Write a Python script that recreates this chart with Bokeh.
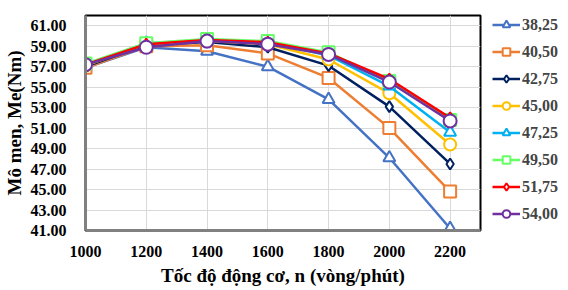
from bokeh.plotting import figure
from bokeh.layouts import row
from bokeh.models import Range1d, FixedTicker, NumeralTickFormatter, Legend, LegendItem
from bokeh.embed import file_html
from bokeh.resources import INLINE

speed = [1000, 1200, 1400, 1600, 1800, 2000, 2200]
s_3825 = [56.9, 58.9, 58.5, 57.0, 53.8, 48.1, 41.2]
s_4050 = [56.9, 59.0, 59.1, 58.3, 55.9, 51.0, 44.8]
s_4275 = [57.0, 59.1, 59.4, 58.9, 57.1, 53.1, 47.5]
s_4500 = [57.1, 59.2, 59.5, 59.2, 57.7, 54.4, 49.4]
s_4725 = [57.2, 59.3, 59.6, 59.4, 58.1, 55.1, 50.6]
s_4950 = [57.3, 59.3, 59.7, 59.5, 58.4, 55.6, 51.8]
s_5175 = [57.2, 59.2, 59.6, 59.4, 58.3, 55.8, 52.0]
s_5400 = [57.2, 58.9, 59.5, 59.2, 58.2, 55.5, 51.7]
labels = ["38,25", "40,50", "42,75", "45,00", "47,25", "49,50", "51,75", "54,00"]
x_ticks = [1000, 1200, 1400, 1600, 1800, 2000, 2200]
y_ticks = [41, 43, 45, 47, 49, 51, 53, 55, 57, 59, 61]

series = [s_3825, s_4050, s_4275, s_4500, s_4725, s_4950, s_5175, s_5400]
colors = ["#4472C4", "#ED7D31", "#002060", "#FFC000", "#00B0F0", "#66FF66", "#FF0000", "#7030A0"]
markers = ["triangle", "square", "diamond", "circle", "triangle", "square", "diamond", "circle"]
msizes = [12, 12, 11, 12, 12, 12, 11, 13]

FONT = "Liberation Serif"
NAN = float("nan")

p = figure(width=492, height=288, output_backend="svg", toolbar_location=None,
           x_range=Range1d(1000, 2300), y_range=Range1d(41, 62),
           min_border_left=79, min_border_right=12, min_border_top=15, min_border_bottom=55)
p.background_fill_color = "white"
p.border_fill_color = "white"
p.outline_line_color = "black"
p.outline_line_width = 2

p.xaxis.ticker = FixedTicker(ticks=x_ticks)
p.yaxis.ticker = FixedTicker(ticks=y_ticks)
p.yaxis.formatter = NumeralTickFormatter(format="0.00")
p.xaxis.formatter = NumeralTickFormatter(format="0")
for ax in (p.xaxis, p.yaxis):
    ax.major_tick_line_color = None
    ax.minor_tick_line_color = None
    ax.axis_line_color = "#808080"
    ax.axis_line_width = 3
    ax.major_label_text_font = FONT
    ax.major_label_text_font_style = "bold"
    ax.major_label_text_font_size = "16px"
    ax.major_label_text_color = "black"
    ax.axis_label_text_font = FONT
    ax.axis_label_text_font_style = "bold"
    ax.axis_label_text_font_size = "19px"
    ax.axis_label_text_color = "black"
p.yaxis.major_label_standoff = 13
p.xaxis.major_label_standoff = 9
p.xaxis.axis_label = "Tốc độ động cơ, n (vòng/phút)"
p.yaxis.axis_label = "Mô men, Me(Nm)"
p.xaxis.axis_label_standoff = 5
p.yaxis.axis_label_standoff = 3

p.grid.grid_line_color = "#D9D9D9"
p.grid.grid_line_width = 1

# legend panel as a separate, axis-less figure
lg = figure(width=68, height=288, output_backend="svg", toolbar_location=None,
            x_range=Range1d(0, 1), y_range=Range1d(0, 1),
            x_axis_location=None, y_axis_location=None,
            min_border_left=0, min_border_right=0, min_border_top=15, min_border_bottom=0)
lg.grid.visible = False
lg.outline_line_color = None

items = []
for ys, c, m, ms, lab in zip(series, colors, markers, msizes, labels):
    p.line(speed, ys, line_color=c, line_width=2.5)
    p.scatter(speed, ys, marker=m, size=ms, line_color=c, line_width=2, fill_color="white")
    l1 = lg.line(x=[NAN], y=[NAN], line_color=c, line_width=2.5)
    l2 = lg.scatter(x=[NAN], y=[NAN], marker=m, size=ms - 1, line_color=c, line_width=2, fill_color="white")
    items.append(LegendItem(label=lab, renderers=[l1, l2]))

legend = Legend(items=items, location="top_left")
legend.label_text_font = FONT
legend.label_text_font_style = "bold"
legend.label_text_font_size = "16px"
legend.label_standoff = 2
legend.glyph_width = 28
legend.glyph_height = 19
legend.label_height = 19
legend.spacing = 8
legend.padding = 0
legend.margin = 0
legend.border_line_color = None
legend.background_fill_alpha = 0
lg.add_layout(legend, "center")

open("out.html", "w").write(file_html(row(p, lg), INLINE))
